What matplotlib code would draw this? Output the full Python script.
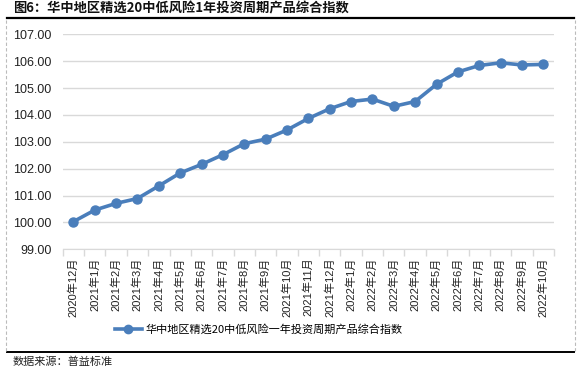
import numpy as np
import matplotlib.pyplot as plt
from matplotlib.lines import Line2D

plt.rcParams["font.family"] = ["Liberation Sans", "Noto Sans CJK SC"]

months = ["2020年12月", "2021年1月", "2021年2月", "2021年3月", "2021年4月", "2021年5月",
          "2021年6月", "2021年7月", "2021年8月", "2021年9月", "2021年10月", "2021年11月",
          "2021年12月", "2022年1月", "2022年2月", "2022年3月", "2022年4月", "2022年5月",
          "2022年6月", "2022年7月", "2022年8月", "2022年9月", "2022年10月"]
index_values = [100.03, 100.46, 100.71, 100.89, 101.36, 101.84, 102.16, 102.52, 102.93,
                103.10, 103.44, 103.87, 104.23, 104.50, 104.59, 104.32, 104.50, 105.14,
                105.60, 105.84, 105.94, 105.86, 105.88]
yticks = [99, 100, 101, 102, 103, 104, 105, 106, 107]

title = "图6：华中地区精选20中低风险1年投资周期产品综合指数"
series_name = "华中地区精选20中低风险一年投资周期产品综合指数"
source = "数据来源：普益标准"

BLUE = "#4A7EBB"
GRID = "#D9D9D9"

fig = plt.figure(figsize=(5.84, 3.71), dpi=100)
ax = fig.add_axes([0.1074, 0.328, 0.8412, 0.5795])

x = np.arange(len(months))
ax.plot(x, index_values, color=BLUE, lw=2.6, marker="o", markersize=6.5,
        solid_joinstyle="round")

ax.set_xlim(-0.5, len(months) - 0.5)
ax.set_ylim(99, 107)
ax.set_yticks(yticks)
ax.set_yticklabels(["%.2f" % v for v in yticks], fontsize=9, color="#222222")
ax.yaxis.grid(True, color=GRID, lw=1)
ax.set_axisbelow(True)
ax.tick_params(axis="y", length=0, pad=8)

# category labels centred on points, tick marks between categories
ax.set_xticks(x)
ax.set_xticklabels(months, rotation=90, fontsize=8, color="#222222")
ax.tick_params(axis="x", which="major", length=0, pad=6)
ax.set_xticks(np.arange(len(months) + 1) - 0.5, minor=True)
ax.tick_params(axis="x", which="minor", length=5, color=GRID, width=1)

for s in ["top", "right", "left"]:
    ax.spines[s].set_visible(False)
ax.spines["bottom"].set_color(GRID)

handle = Line2D([], [], color=BLUE, lw=2.6, marker="o", markersize=6)
fig.legend([handle], [series_name], loc="center", bbox_to_anchor=(0.443, 0.113),
           frameon=False, handlelength=2.4, handletextpad=0.3,
           prop={"family": ["Noto Sans CJK SC"], "size": 8})

# title, frame lines and source
fig.text(0.022, 0.976, title, fontsize=9.5, fontweight="bold", va="center",
         family=["Noto Sans CJK SC"], color="#111111")
fig.add_artist(Line2D([0.012, 0.983], [0.951, 0.951], color="black", lw=1.6))
fig.add_artist(Line2D([0.012, 0.983], [0.051, 0.051], color="black", lw=1.4))
fig.add_artist(Line2D([0.011, 0.011], [0.055, 0.947], color="#BBBBBB", lw=0.8, ls=(0, (3, 2))))
fig.add_artist(Line2D([0.985, 0.985], [0.055, 0.947], color="#BBBBBB", lw=0.8, ls=(0, (3, 2))))
fig.text(0.022, 0.025, source, fontsize=8, va="center", family=["Noto Sans CJK SC"],
         color="#222222")

fig.savefig("out.png", dpi=100)
